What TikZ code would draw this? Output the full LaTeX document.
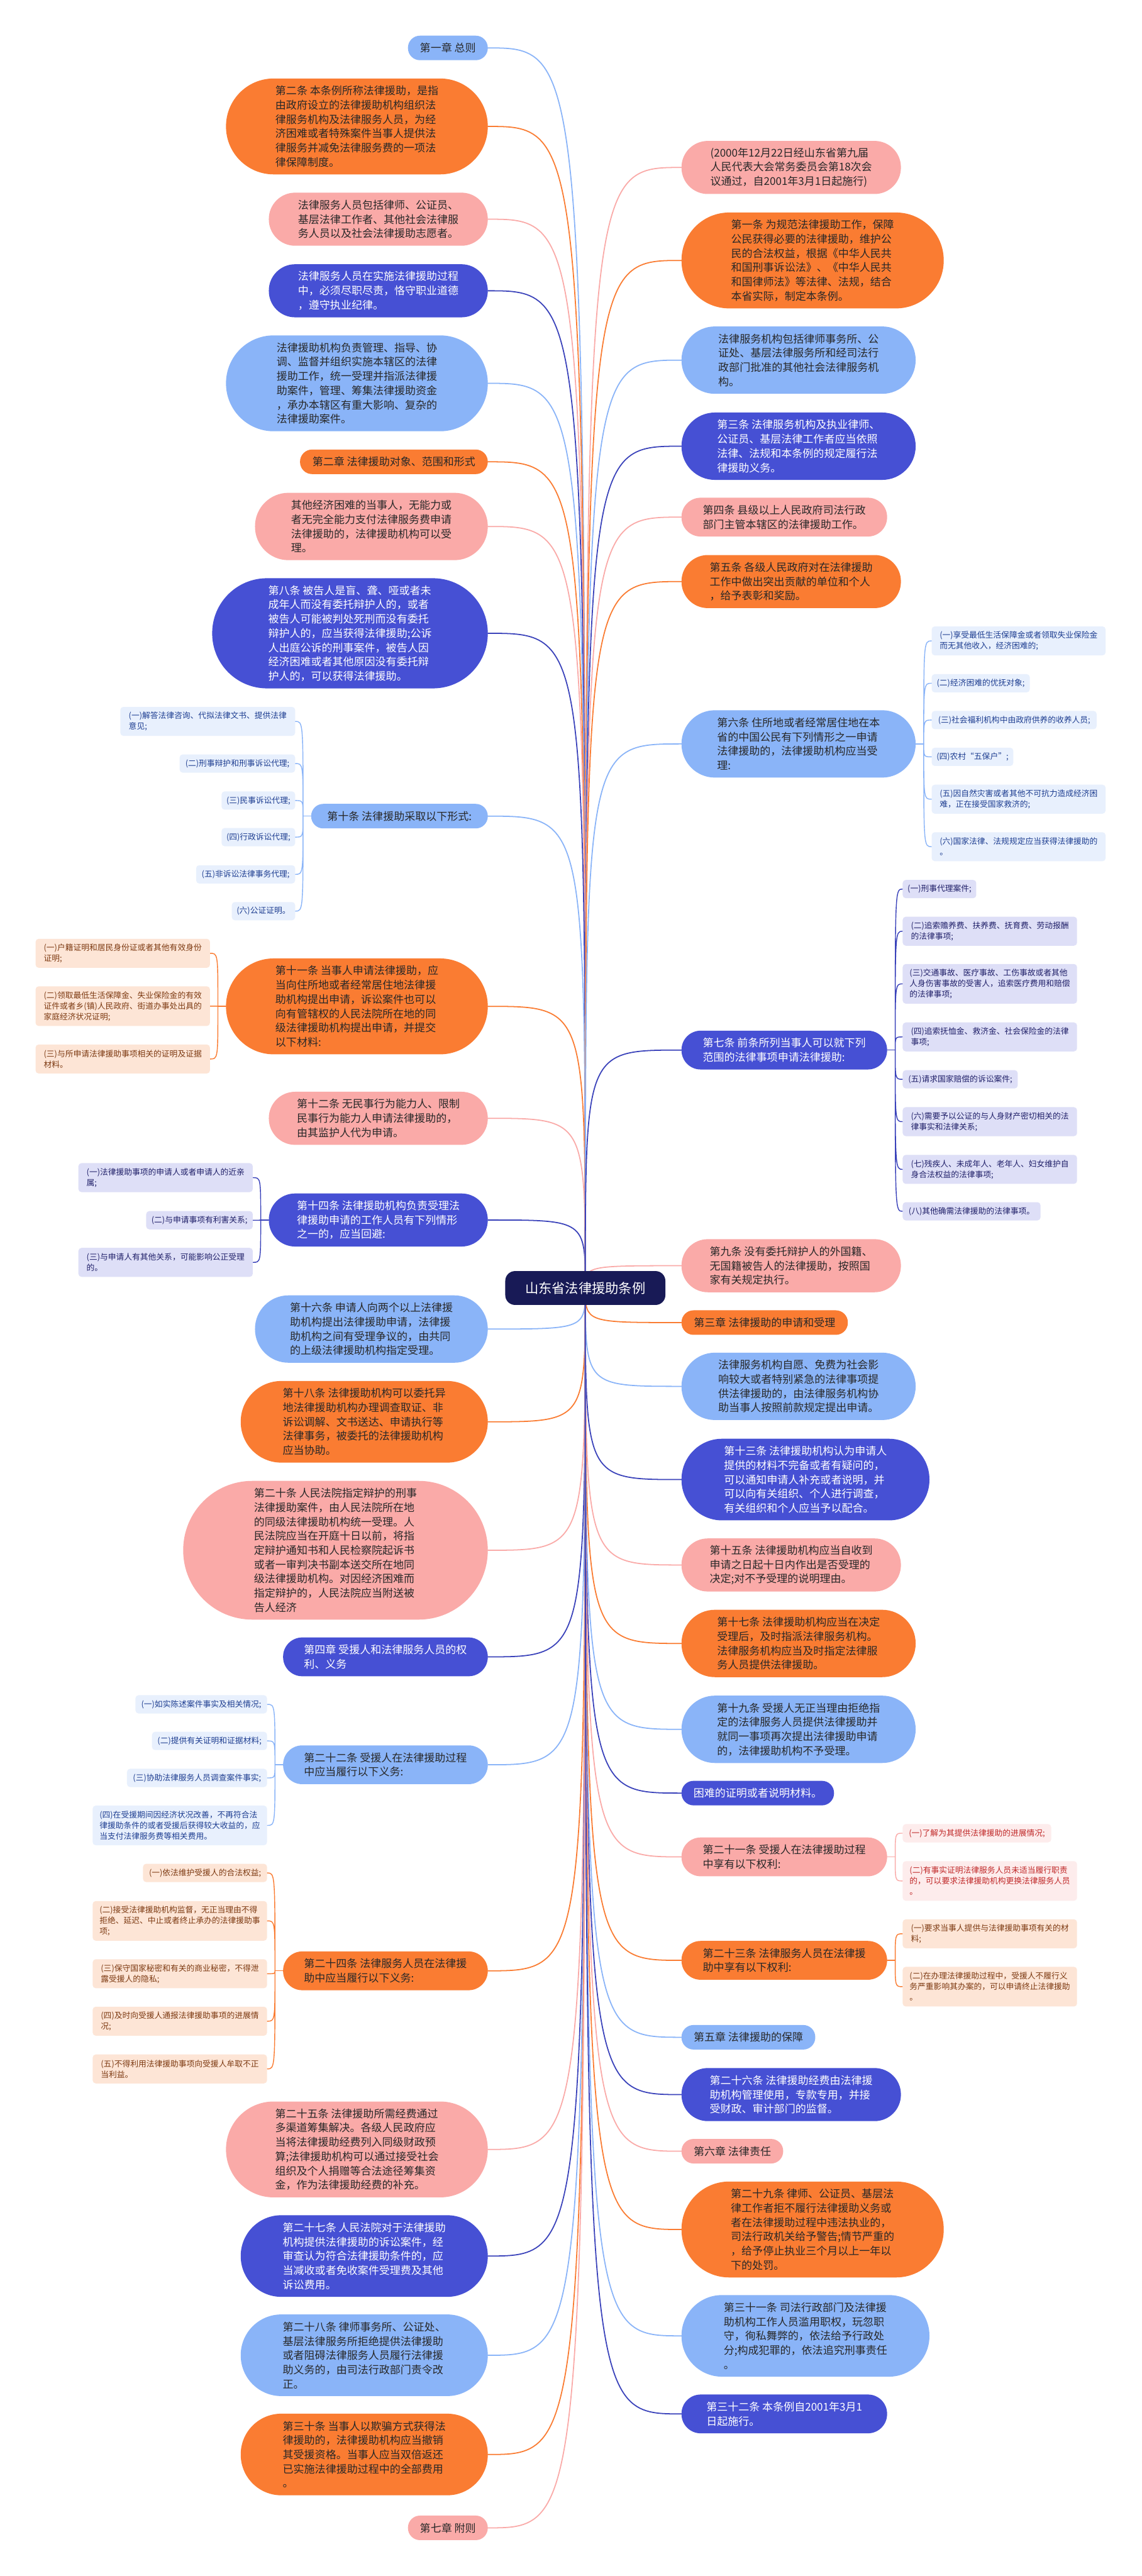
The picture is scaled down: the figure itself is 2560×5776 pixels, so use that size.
\documentclass[tikz,border=0pt]{standalone}
\usepackage{fontspec}
\setmainfont{Noto Sans CJK SC}
\usetikzlibrary{backgrounds}
\definecolor{RootNavy}{RGB}{24,26,86}
\definecolor{SkyBlue}{RGB}{138,180,248}
\definecolor{Tangerine}{RGB}{250,124,50}
\definecolor{Salmon}{RGB}{250,170,168}
\definecolor{Indigo}{RGB}{70,80,212}
\definecolor{IndigoLine}{RGB}{58,66,186}
\definecolor{Ink}{RGB}{40,40,40}
\definecolor{PaleBlue}{RGB}{232,240,253}
\definecolor{PalePeach}{RGB}{253,229,214}
\definecolor{PaleLilac}{RGB}{222,223,247}
\definecolor{PaleRose}{RGB}{253,236,236}
\definecolor{BlueInk}{RGB}{30,62,145}
\definecolor{BrownInk}{RGB}{125,58,18}
\definecolor{LilacInk}{RGB}{32,32,105}
\definecolor{RoseInk}{RGB}{192,40,40}
\tikzset{
  pill/.style={align=left,inner sep=0pt,text=Ink,font=\fontsize{24}{32}\selectfont},
  h1/.style={minimum height=55pt,rounded corners=27pt},
  h2/.style={minimum height=87pt,rounded corners=43pt},
  h3/.style={minimum height=119pt,rounded corners=59pt},
  h4/.style={minimum height=151pt,rounded corners=75pt},
  h5/.style={minimum height=183pt,rounded corners=91pt},
  h6/.style={minimum height=215pt,rounded corners=107pt},
  h7/.style={minimum height=247pt,rounded corners=123pt},
  h9/.style={minimum height=311pt,rounded corners=155pt},
  sky/.style={pill,fill=SkyBlue},
  tang/.style={pill,fill=Tangerine},
  salmon/.style={pill,fill=Salmon},
  indigo/.style={pill,fill=Indigo,text=white},
  root/.style={fill=RootNavy,text=white,inner sep=0pt,rounded corners=22pt,minimum width=359pt,minimum height=76pt,font=\fontsize{30}{36}\selectfont},
  leaf/.style={align=left,inner sep=0pt,rounded corners=7pt,font=\fontsize{18}{24}\selectfont},
  k1/.style={minimum height=41pt},
  k2/.style={minimum height=65pt},
  k3/.style={minimum height=89pt},
  leafSky/.style={leaf,fill=PaleBlue,text=BlueInk},
  leafTang/.style={leaf,fill=PalePeach,text=BrownInk},
  leafIndigo/.style={leaf,fill=PaleLilac,text=LilacInk},
  leafSalmon/.style={leaf,fill=PaleRose,text=RoseInk},
  eSky/.style={draw=SkyBlue,line width=2.5pt,line cap=round},
  eTang/.style={draw=Tangerine,line width=2.5pt,line cap=round},
  eSalmon/.style={draw=Salmon,line width=2.5pt,line cap=round},
  eIndigo/.style={draw=IndigoLine,line width=2.5pt,line cap=round},
  twigSky/.style={eSky,line width=2pt},
  twigTang/.style={eTang,line width=2pt},
  twigSalmon/.style={eSalmon,line width=2pt},
  twigIndigo/.style={eIndigo,line width=2pt}
}
\begin{document}
\begin{tikzpicture}[x=1pt,y=-1pt]
  \useasboundingbox (0,0) rectangle (2560,5776);
  \node[root] (root) at (1312.5,2888) {山东省法律援助条例};
  % left side
  \node[sky,h1,minimum width=179pt,anchor=east] (l1) at (1094,107.5) {第一章 总则};
  \node[tang,h6,minimum width=587pt,anchor=east] (l2) at (1094,283.5) {第二条 本条例所称法律援助，是指\\由政府设立的法律援助机构组织法\\律服务机构及法律服务人员，为经\\济困难或者特殊案件当事人提供法\\律服务并减免法律服务费的一项法\\律保障制度。};
  \node[salmon,h3,minimum width=491pt,anchor=east] (l3) at (1094,491.5) {法律服务人员包括律师、公证员、\\基层法律工作者、其他社会法律服\\务人员以及社会法律援助志愿者。};
  \node[indigo,h3,minimum width=491pt,anchor=east] (l4) at (1094,652) {法律服务人员在实施法律援助过程\\中，必须尽职尽责，恪守职业道德\\，遵守执业纪律。};
  \node[sky,h6,minimum width=587pt,anchor=east] (l5) at (1094,859.5) {法律援助机构负责管理、指导、协\\调、监督并组织实施本辖区的法律\\援助工作，统一受理并指派法律援\\助案件，管理、筹集法律援助资金\\，承办本辖区有重大影响、复杂的\\法律援助案件。};
  \node[tang,h1,minimum width=421pt,anchor=east] (l6) at (1094,1035.5) {第二章 法律援助对象、范围和形式};
  \node[salmon,h4,minimum width=522pt,anchor=east] (l7) at (1094,1180.5) {其他经济困难的当事人，无能力或\\者无完全能力支付法律服务费申请\\法律援助的，法律援助机构可以受\\理。};
  \node[indigo,h7,minimum width=618pt,anchor=east] (l8) at (1094,1420) {第八条 被告人是盲、聋、哑或者未\\成年人而没有委托辩护人的，或者\\被告人可能被判处死刑而没有委托\\辩护人的，应当获得法律援助;公诉\\人出庭公诉的刑事案件，被告人因\\经济困难或者其他原因没有委托辩\\护人的，可以获得法律援助。};
  \node[sky,h1,minimum width=396pt,anchor=east] (l9) at (1094,1830) {第十条 法律援助采取以下形式:};
  \node[leafSky,k2,minimum width=392pt,anchor=east] (l9a) at (662,1617.5) {(一)解答法律咨询、代拟法律文书、提供法律\\意见;};
  \node[leafSky,k1,minimum width=259pt,anchor=east] (l9b) at (662,1712) {(二)刑事辩护和刑事诉讼代理;};
  \node[leafSky,k1,minimum width=165pt,anchor=east] (l9c) at (662,1795) {(三)民事诉讼代理;};
  \node[leafSky,k1,minimum width=165pt,anchor=east] (l9d) at (662,1877) {(四)行政诉讼代理;};
  \node[leafSky,k1,minimum width=222pt,anchor=east] (l9e) at (662,1960.5) {(五)非诉讼法律事务代理;};
  \node[leafSky,k1,minimum width=142pt,anchor=east] (l9f) at (662,2043) {(六)公证证明。};
  \node[tang,h6,minimum width=587pt,anchor=east] (l10) at (1094,2256.5) {第十一条 当事人申请法律援助，应\\当向住所地或者经常居住地法律援\\助机构提出申请，诉讼案件也可以\\向有管辖权的人民法院所在地的同\\级法律援助机构提出申请，并提交\\以下材料:};
  \node[leafTang,k2,minimum width=391pt,anchor=east] (l10a) at (471,2137.5) {(一)户籍证明和居民身份证或者其他有效身份\\证明;};
  \node[leafTang,k3,minimum width=391pt,anchor=east] (l10b) at (471,2256) {(二)领取最低生活保障金、失业保险金的有效\\证件或者乡(镇)人民政府、街道办事处出具的\\家庭经济状况证明;};
  \node[leafTang,k2,minimum width=391pt,anchor=east] (l10c) at (471,2374.5) {(三)与所申请法律援助事项相关的证明及证据\\材料。};
  \node[salmon,h3,minimum width=491pt,anchor=east] (l11) at (1094,2507.5) {第十二条 无民事行为能力人、限制\\民事行为能力人申请法律援助的，\\由其监护人代为申请。};
  \node[indigo,h3,minimum width=491pt,anchor=east] (l12) at (1094,2735.5) {第十四条 法律援助机构负责受理法\\律援助申请的工作人员有下列情形\\之一的，应当回避:};
  \node[leafIndigo,k2,minimum width=391pt,anchor=east] (l12a) at (567,2640.5) {(一)法律援助事项的申请人或者申请人的近亲\\属;};
  \node[leafIndigo,k1,minimum width=239pt,anchor=east] (l12b) at (567,2736) {(二)与申请事项有利害关系;};
  \node[leafIndigo,k2,minimum width=391pt,anchor=east] (l12c) at (567,2830.5) {(三)与申请人有其他关系，可能影响公正受理\\的。};
  \node[sky,h4,minimum width=522pt,anchor=east] (l13) at (1094,2980) {第十六条 申请人向两个以上法律援\\助机构提出法律援助申请，法律援\\助机构之间有受理争议的，由共同\\的上级法律援助机构指定受理。};
  \node[tang,h5,minimum width=554pt,anchor=east] (l14) at (1094,3188) {第十八条 法律援助机构可以委托异\\地法律援助机构办理调查取证、非\\诉讼调解、文书送达、申请执行等\\法律事务，被委托的法律援助机构\\应当协助。};
  \node[salmon,h9,minimum width=683pt,anchor=east] (l15) at (1094,3476) {第二十条 人民法院指定辩护的刑事\\法律援助案件，由人民法院所在地\\的同级法律援助机构统一受理。人\\民法院应当在开庭十日以前，将指\\定辩护通知书和人民检察院起诉书\\或者一审判决书副本送交所在地同\\级法律援助机构。对因经济困难而\\指定辩护的，人民法院应当附送被\\告人经济};
  \node[indigo,h2,minimum width=459pt,anchor=east] (l16) at (1094,3715) {第四章 受援人和法律服务人员的权\\利、义务};
  \node[sky,h2,minimum width=459pt,anchor=east] (l17) at (1094,3957) {第二十二条 受援人在法律援助过程\\中应当履行以下义务:};
  \node[leafSky,k1,minimum width=295pt,anchor=east] (l17a) at (599,3821.5) {(一)如实陈述案件事实及相关情况;};
  \node[leafSky,k1,minimum width=258pt,anchor=east] (l17b) at (599,3903.5) {(二)提供有关证明和证据材料;};
  \node[leafSky,k1,minimum width=314pt,anchor=east] (l17c) at (599,3986.5) {(三)协助法律服务人员调查案件事实;};
  \node[leafSky,k3,minimum width=391pt,anchor=east] (l17d) at (599,4093) {(四)在受援期间因经济状况改善，不再符合法\\律援助条件的或者受援后获得较大收益的，应\\当支付法律服务费等相关费用。};
  \node[tang,h2,minimum width=459pt,anchor=east] (l18) at (1094,4419) {第二十四条 法律服务人员在法律援\\助中应当履行以下义务:};
  \node[leafTang,k1,minimum width=278pt,anchor=east] (l18a) at (599,4199.5) {(一)依法维护受援人的合法权益;};
  \node[leafTang,k3,minimum width=391pt,anchor=east] (l18b) at (599,4307) {(二)接受法律援助机构监督，无正当理由不得\\拒绝、延迟、中止或者终止承办的法律援助事\\项;};
  \node[leafTang,k2,minimum width=391pt,anchor=east] (l18c) at (599,4425.5) {(三)保守国家秘密和有关的商业秘密，不得泄\\露受援人的隐私;};
  \node[leafTang,k2,minimum width=391pt,anchor=east] (l18d) at (599,4532) {(四)及时向受援人通报法律援助事项的进展情\\况;};
  \node[leafTang,k2,minimum width=391pt,anchor=east] (l18e) at (599,4639) {(五)不得利用法律援助事项向受援人牟取不正\\当利益。};
  \node[salmon,h6,minimum width=587pt,anchor=east] (l19) at (1094,4819.5) {第二十五条 法律援助所需经费通过\\多渠道筹集解决。各级人民政府应\\当将法律援助经费列入同级财政预\\算;法律援助机构可以通过接受社会\\组织及个人捐赠等合法途径筹集资\\金，作为法律援助经费的补充。};
  \node[indigo,h5,minimum width=554pt,anchor=east] (l20) at (1094,5058.5) {第二十七条 人民法院对于法律援助\\机构提供法律援助的诉讼案件，经\\审查认为符合法律援助条件的，应\\当减收或者免收案件受理费及其他\\诉讼费用。};
  \node[sky,h5,minimum width=554pt,anchor=east] (l21) at (1094,5281) {第二十八条 律师事务所、公证处、\\基层法律服务所拒绝提供法律援助\\或者阻碍法律服务人员履行法律援\\助义务的，由司法行政部门责令改\\正。};
  \node[tang,h5,minimum width=554pt,anchor=east] (l22) at (1094,5503.5) {第三十条 当事人以欺骗方式获得法\\律援助的，法律援助机构应当撤销\\其受援资格。当事人应当双倍返还\\已实施法律援助过程中的全部费用\\。};
  \node[salmon,h1,minimum width=179pt,anchor=east] (l23) at (1094,5668) {第七章 附则};
  % right side
  \node[salmon,h3,minimum width=492pt,anchor=west] (r1) at (1528,375.5) {(2000年12月22日经山东省第九届\\人民代表大会常务委员会第18次会\\议通过，自2001年3月1日起施行)};
  \node[tang,h6,minimum width=588pt,anchor=west] (r2) at (1528,584) {第一条 为规范法律援助工作，保障\\公民获得必要的法律援助，维护公\\民的合法权益，根据《中华人民共\\和国刑事诉讼法》、《中华人民共\\和国律师法》等法律、法规，结合\\本省实际，制定本条例。};
  \node[sky,h4,minimum width=525pt,anchor=west] (r3) at (1528,807.5) {法律服务机构包括律师事务所、公\\证处、基层法律服务所和经司法行\\政部门批准的其他社会法律服务机\\构。};
  \node[indigo,h4,minimum width=525pt,anchor=west] (r4) at (1528,1000.5) {第三条 法律服务机构及执业律师、\\公证员、基层法律工作者应当依照\\法律、法规和本条例的规定履行法\\律援助义务。};
  \node[salmon,h2,minimum width=461pt,anchor=west] (r5) at (1528,1159.5) {第四条 县级以上人民政府司法行政\\部门主管本辖区的法律援助工作。};
  \node[tang,h3,minimum width=492pt,anchor=west] (r6) at (1528,1304) {第五条 各级人民政府对在法律援助\\工作中做出突出贡献的单位和个人\\，给予表彰和奖励。};
  \node[sky,h4,minimum width=525pt,anchor=west] (r7) at (1528,1668) {第六条 住所地或者经常居住地在本\\省的中国公民有下列情形之一申请\\法律援助的，法律援助机构应当受\\理:};
  \node[leafSky,k2,minimum width=390pt,anchor=west] (r7a) at (2089,1437) {(一)享受最低生活保障金或者领取失业保险金\\而无其他收入，经济困难的;};
  \node[leafSky,k1,minimum width=220pt,anchor=west] (r7b) at (2089,1532) {(二)经济困难的优抚对象;};
  \node[leafSky,k1,minimum width=370pt,anchor=west] (r7c) at (2089,1614.5) {(三)社会福利机构中由政府供养的收养人员;};
  \node[leafSky,k1,minimum width=183pt,anchor=west] (r7d) at (2089,1697) {(四)农村“五保户”;};
  \node[leafSky,k2,minimum width=390pt,anchor=west] (r7e) at (2089,1792) {(五)因自然灾害或者其他不可抗力造成经济困\\难，正在接受国家救济的;};
  \node[leafSky,k2,minimum width=390pt,anchor=west] (r7f) at (2089,1898.5) {(六)国家法律、法规规定应当获得法律援助的\\。};
  \node[indigo,h2,minimum width=461pt,anchor=west] (r8) at (1528,2354.5) {第七条 前条所列当事人可以就下列\\范围的法律事项申请法律援助:};
  \node[leafIndigo,k1,minimum width=165pt,anchor=west] (r8a) at (2024,1993.5) {(一)刑事代理案件;};
  \node[leafIndigo,k2,minimum width=391pt,anchor=west] (r8b) at (2024,2088) {(二)追索赡养费、扶养费、抚育费、劳动报酬\\的法律事项;};
  \node[leafIndigo,k3,minimum width=391pt,anchor=west] (r8c) at (2024,2206) {(三)交通事故、医疗事故、工伤事故或者其他\\人身伤害事故的受害人，追索医疗费用和赔偿\\的法律事项;};
  \node[leafIndigo,k2,minimum width=391pt,anchor=west] (r8d) at (2024,2325) {(四)追索抚恤金、救济金、社会保险金的法律\\事项;};
  \node[leafIndigo,k1,minimum width=258pt,anchor=west] (r8e) at (2024,2420) {(五)请求国家赔偿的诉讼案件;};
  \node[leafIndigo,k2,minimum width=391pt,anchor=west] (r8f) at (2024,2515) {(六)需要予以公证的与人身财产密切相关的法\\律事实和法律关系;};
  \node[leafIndigo,k2,minimum width=391pt,anchor=west] (r8g) at (2024,2622) {(七)残疾人、未成年人、老年人、妇女维护自\\身合法权益的法律事项;};
  \node[leafIndigo,k1,minimum width=309pt,anchor=west] (r8h) at (2024,2716) {(八)其他确需法律援助的法律事项。};
  \node[salmon,h3,minimum width=492pt,anchor=west] (r9) at (1528,2838) {第九条 没有委托辩护人的外国籍、\\无国籍被告人的法律援助，按照国\\家有关规定执行。};
  \node[tang,h1,minimum width=373pt,anchor=west] (r10) at (1528,2965.5) {第三章 法律援助的申请和受理};
  \node[sky,h4,minimum width=525pt,anchor=west] (r11) at (1528,3108.5) {法律服务机构自愿、免费为社会影\\响较大或者特别紧急的法律事项提\\供法律援助的，由法律服务机构协\\助当事人按照前款规定提出申请。};
  \node[indigo,h5,minimum width=556pt,anchor=west] (r12) at (1528,3317.5) {第十三条 法律援助机构认为申请人\\提供的材料不完备或者有疑问的，\\可以通知申请人补充或者说明，并\\可以向有关组织、个人进行调查，\\有关组织和个人应当予以配合。};
  \node[salmon,h3,minimum width=492pt,anchor=west] (r13) at (1528,3509) {第十五条 法律援助机构应当自收到\\申请之日起十日内作出是否受理的\\决定;对不予受理的说明理由。};
  \node[tang,h4,minimum width=525pt,anchor=west] (r14) at (1528,3685) {第十七条 法律援助机构应当在决定\\受理后，及时指派法律服务机构。\\法律服务机构应当及时指定法律服\\务人员提供法律援助。};
  \node[sky,h4,minimum width=525pt,anchor=west] (r15) at (1528,3877.5) {第十九条 受援人无正当理由拒绝指\\定的法律服务人员提供法律援助并\\就同一事项再次提出法律援助申请\\的，法律援助机构不予受理。};
  \node[indigo,h1,minimum width=342pt,anchor=west] (r16) at (1528,4020.5) {困难的证明或者说明材料。};
  \node[salmon,h2,minimum width=461pt,anchor=west] (r17) at (1528,4163.5) {第二十一条 受援人在法律援助过程\\中享有以下权利:};
  \node[leafSalmon,k1,minimum width=333pt,anchor=west] (r17a) at (2024,4110.5) {(一)了解为其提供法律援助的进展情况;};
  \node[leafSalmon,k3,minimum width=391pt,anchor=west] (r17b) at (2024,4217.5) {(二)有事实证明法律服务人员未适当履行职责\\的，可以要求法律援助机构更换法律服务人员\\。};
  \node[tang,h2,minimum width=461pt,anchor=west] (r18) at (1528,4395.5) {第二十三条 法律服务人员在法律援\\助中享有以下权利:};
  \node[leafTang,k2,minimum width=391pt,anchor=west] (r18a) at (2024,4336) {(一)要求当事人提供与法律援助事项有关的材\\料;};
  \node[leafTang,k3,minimum width=391pt,anchor=west] (r18b) at (2024,4454.5) {(二)在办理法律援助过程中，受援人不履行义\\务严重影响其办案的，可以申请终止法律援助\\。};
  \node[sky,h1,minimum width=300pt,anchor=west] (r19) at (1528,4568) {第五章 法律援助的保障};
  \node[indigo,h3,minimum width=492pt,anchor=west] (r20) at (1528,4696.5) {第二十六条 法律援助经费由法律援\\助机构管理使用，专款专用，并接\\受财政、审计部门的监督。};
  \node[salmon,h1,minimum width=228pt,anchor=west] (r21) at (1528,4823.5) {第六章 法律责任};
  \node[tang,h6,minimum width=588pt,anchor=west] (r22) at (1528,4999) {第二十九条 律师、公证员、基层法\\律工作者拒不履行法律援助义务或\\者在法律援助过程中违法执业的，\\司法行政机关给予警告;情节严重的\\，给予停止执业三个月以上一年以\\下的处罚。};
  \node[sky,h5,minimum width=556pt,anchor=west] (r23) at (1528,5237.5) {第三十一条 司法行政部门及法律援\\助机构工作人员滥用职权，玩忽职\\守，徇私舞弊的，依法给予行政处\\分;构成犯罪的，依法追究刑事责任\\。};
  \node[indigo,h2,minimum width=461pt,anchor=west] (r24) at (1528,5412.5) {第三十二条 本条例自2001年3月1\\日起施行。};
  % connectors
  \begin{scope}[on background layer]
    \fill[white] (0,0) rectangle (2560,5776);
    \draw[eSky] (root.center) .. controls (root.center |- l1.east) .. (l1.east);
    \draw[eTang] (root.center) .. controls (root.center |- l2.east) .. (l2.east);
    \draw[eSalmon] (root.center) .. controls (root.center |- l3.east) .. (l3.east);
    \draw[eIndigo] (root.center) .. controls (root.center |- l4.east) .. (l4.east);
    \draw[eSky] (root.center) .. controls (root.center |- l5.east) .. (l5.east);
    \draw[eTang] (root.center) .. controls (root.center |- l6.east) .. (l6.east);
    \draw[eSalmon] (root.center) .. controls (root.center |- l7.east) .. (l7.east);
    \draw[eIndigo] (root.center) .. controls (root.center |- l8.east) .. (l8.east);
    \draw[eSky] (root.center) .. controls (root.center |- l9.east) .. (l9.east);
    \draw[eTang] (root.center) .. controls (root.center |- l10.east) .. (l10.east);
    \draw[eSalmon] (root.center) .. controls (root.center |- l11.east) .. (l11.east);
    \draw[eIndigo] (root.center) .. controls (root.center |- l12.east) .. (l12.east);
    \draw[eSky] (root.center) .. controls (root.center |- l13.east) .. (l13.east);
    \draw[eTang] (root.center) .. controls (root.center |- l14.east) .. (l14.east);
    \draw[eSalmon] (root.center) .. controls (root.center |- l15.east) .. (l15.east);
    \draw[eIndigo] (root.center) .. controls (root.center |- l16.east) .. (l16.east);
    \draw[eSky] (root.center) .. controls (root.center |- l17.east) .. (l17.east);
    \draw[eTang] (root.center) .. controls (root.center |- l18.east) .. (l18.east);
    \draw[eSalmon] (root.center) .. controls (root.center |- l19.east) .. (l19.east);
    \draw[eIndigo] (root.center) .. controls (root.center |- l20.east) .. (l20.east);
    \draw[eSky] (root.center) .. controls (root.center |- l21.east) .. (l21.east);
    \draw[eTang] (root.center) .. controls (root.center |- l22.east) .. (l22.east);
    \draw[eSalmon] (root.center) .. controls (root.center |- l23.east) .. (l23.east);
    \draw[eSalmon] (root.center) .. controls (root.center |- r1.west) .. (r1.west);
    \draw[eTang] (root.center) .. controls (root.center |- r2.west) .. (r2.west);
    \draw[eSky] (root.center) .. controls (root.center |- r3.west) .. (r3.west);
    \draw[eIndigo] (root.center) .. controls (root.center |- r4.west) .. (r4.west);
    \draw[eSalmon] (root.center) .. controls (root.center |- r5.west) .. (r5.west);
    \draw[eTang] (root.center) .. controls (root.center |- r6.west) .. (r6.west);
    \draw[eSky] (root.center) .. controls (root.center |- r7.west) .. (r7.west);
    \draw[eIndigo] (root.center) .. controls (root.center |- r8.west) .. (r8.west);
    \draw[eSalmon] (root.center) .. controls (root.center |- r9.west) .. (r9.west);
    \draw[eTang] (root.center) .. controls (root.center |- r10.west) .. (r10.west);
    \draw[eSky] (root.center) .. controls (root.center |- r11.west) .. (r11.west);
    \draw[eIndigo] (root.center) .. controls (root.center |- r12.west) .. (r12.west);
    \draw[eSalmon] (root.center) .. controls (root.center |- r13.west) .. (r13.west);
    \draw[eTang] (root.center) .. controls (root.center |- r14.west) .. (r14.west);
    \draw[eSky] (root.center) .. controls (root.center |- r15.west) .. (r15.west);
    \draw[eIndigo] (root.center) .. controls (root.center |- r16.west) .. (r16.west);
    \draw[eSalmon] (root.center) .. controls (root.center |- r17.west) .. (r17.west);
    \draw[eTang] (root.center) .. controls (root.center |- r18.west) .. (r18.west);
    \draw[eSky] (root.center) .. controls (root.center |- r19.west) .. (r19.west);
    \draw[eIndigo] (root.center) .. controls (root.center |- r20.west) .. (r20.west);
    \draw[eSalmon] (root.center) .. controls (root.center |- r21.west) .. (r21.west);
    \draw[eTang] (root.center) .. controls (root.center |- r22.west) .. (r22.west);
    \draw[eSky] (root.center) .. controls (root.center |- r23.west) .. (r23.west);
    \draw[eIndigo] (root.center) .. controls (root.center |- r24.west) .. (r24.west);
    % leaf brackets
    \draw[twigSky] (l9.west) -- ++(-18,0) coordinate (l9j);
    \draw[twigSky] (l9j) .. controls (l9j |- l9a.east) .. (l9a.east)
      (l9j) .. controls (l9j |- l9b.east) .. (l9b.east)
      (l9j) .. controls (l9j |- l9c.east) .. (l9c.east)
      (l9j) .. controls (l9j |- l9d.east) .. (l9d.east)
      (l9j) .. controls (l9j |- l9e.east) .. (l9e.east)
      (l9j) .. controls (l9j |- l9f.east) .. (l9f.east);
    \draw[twigTang] (l10.west) -- ++(-18,0) coordinate (l10j);
    \draw[twigTang] (l10j) .. controls (l10j |- l10a.east) .. (l10a.east)
      (l10j) .. controls (l10j |- l10b.east) .. (l10b.east)
      (l10j) .. controls (l10j |- l10c.east) .. (l10c.east);
    \draw[twigIndigo] (l12.west) -- ++(-18,0) coordinate (l12j);
    \draw[twigIndigo] (l12j) .. controls (l12j |- l12a.east) .. (l12a.east)
      (l12j) .. controls (l12j |- l12b.east) .. (l12b.east)
      (l12j) .. controls (l12j |- l12c.east) .. (l12c.east);
    \draw[twigSky] (l17.west) -- ++(-18,0) coordinate (l17j);
    \draw[twigSky] (l17j) .. controls (l17j |- l17a.east) .. (l17a.east)
      (l17j) .. controls (l17j |- l17b.east) .. (l17b.east)
      (l17j) .. controls (l17j |- l17c.east) .. (l17c.east)
      (l17j) .. controls (l17j |- l17d.east) .. (l17d.east);
    \draw[twigTang] (l18.west) -- ++(-18,0) coordinate (l18j);
    \draw[twigTang] (l18j) .. controls (l18j |- l18a.east) .. (l18a.east)
      (l18j) .. controls (l18j |- l18b.east) .. (l18b.east)
      (l18j) .. controls (l18j |- l18c.east) .. (l18c.east)
      (l18j) .. controls (l18j |- l18d.east) .. (l18d.east)
      (l18j) .. controls (l18j |- l18e.east) .. (l18e.east);
    \draw[twigSky] (r7.east) -- ++(18,0) coordinate (r7j);
    \draw[twigSky] (r7j) .. controls (r7j |- r7a.west) .. (r7a.west)
      (r7j) .. controls (r7j |- r7b.west) .. (r7b.west)
      (r7j) .. controls (r7j |- r7c.west) .. (r7c.west)
      (r7j) .. controls (r7j |- r7d.west) .. (r7d.west)
      (r7j) .. controls (r7j |- r7e.west) .. (r7e.west)
      (r7j) .. controls (r7j |- r7f.west) .. (r7f.west);
    \draw[twigIndigo] (r8.east) -- ++(18,0) coordinate (r8j);
    \draw[twigIndigo] (r8j) .. controls (r8j |- r8a.west) .. (r8a.west)
      (r8j) .. controls (r8j |- r8b.west) .. (r8b.west)
      (r8j) .. controls (r8j |- r8c.west) .. (r8c.west)
      (r8j) .. controls (r8j |- r8d.west) .. (r8d.west)
      (r8j) .. controls (r8j |- r8e.west) .. (r8e.west)
      (r8j) .. controls (r8j |- r8f.west) .. (r8f.west)
      (r8j) .. controls (r8j |- r8g.west) .. (r8g.west)
      (r8j) .. controls (r8j |- r8h.west) .. (r8h.west);
    \draw[twigSalmon] (r17.east) -- ++(18,0) coordinate (r17j);
    \draw[twigSalmon] (r17j) .. controls (r17j |- r17a.west) .. (r17a.west)
      (r17j) .. controls (r17j |- r17b.west) .. (r17b.west);
    \draw[twigTang] (r18.east) -- ++(18,0) coordinate (r18j);
    \draw[twigTang] (r18j) .. controls (r18j |- r18a.west) .. (r18a.west)
      (r18j) .. controls (r18j |- r18b.west) .. (r18b.west);
  \end{scope}
\end{tikzpicture}
\end{document}
